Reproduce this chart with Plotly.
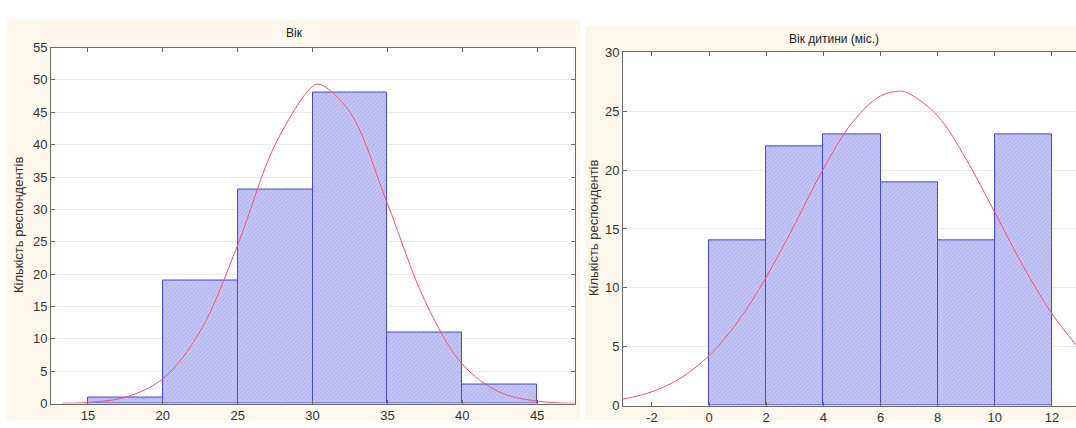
import plotly.graph_objects as go

W, H = 1076, 428

# ---- data: left histogram (Вік) ----
age_edges = [15, 20, 25, 30, 35, 40, 45]
age_counts = [1, 19, 33, 48, 11, 3]
age_curve_x = [13.3, 15, 17.5, 20, 22.5, 25, 27.5, 30, 30.5, 32.5, 35, 37.5, 40, 42.5, 45, 47.5]
age_curve_y = [0.05, 0.19, 0.99, 3.85, 11.2, 24.5, 40.0, 49.0, 49.3, 45.0, 30.9, 15.9, 6.1, 1.77, 0.38, 0.06]
age_ticks = [15, 20, 25, 30, 35, 40, 45]

# ---- data: right histogram (Вік дитини) ----
child_edges = [0, 2, 4, 6, 8, 10, 12]
child_counts = [14, 22, 23, 19, 14, 23]
child_curve_x = [-3, -2, -1, 0, 1, 2, 3, 4, 5, 6, 6.7, 7, 8, 9, 10, 11, 12, 12.84]
child_curve_y = [0.55, 1.17, 2.32, 4.24, 7.1, 10.9, 15.4, 20.1, 24.0, 26.3, 26.7, 26.5, 24.6, 20.9, 16.4, 11.8, 7.8, 5.15]
child_ticks = [-2, 0, 2, 4, 6, 8, 10, 12]
child_tick_labels = ["-2", "0", "2", "4", "6", "8", "10", "12"]

left_title = "Вік"
right_title = "Вік дитини (міс.)"
y_title = "Кількість респондентів"

def px_x(p):
    return p / W

def px_y(p):
    return 1 - p / H

BAR_FILL = "#c6c6f5"
BAR_LINE = "#4646e6"
CURVE = "#f0566e"
CREAM = "#fcf8ec"
FONT = "Liberation Sans, Arial, sans-serif"

fig = go.Figure()

def add_hist(edges, counts, cx, cy, xa, ya):
    centers = [(edges[i] + edges[i + 1]) / 2 for i in range(len(counts))]
    widths = [edges[i + 1] - edges[i] for i in range(len(counts))]
    fig.add_trace(go.Bar(
        x=centers, y=counts, width=widths, xaxis=xa, yaxis=ya,
        marker=dict(color=BAR_FILL, line=dict(color=BAR_LINE, width=1),
                    pattern=dict(shape="/", fgcolor="#9a9aea", bgcolor=BAR_FILL,
                                 size=3, solidity=0.35)),
        showlegend=False, hoverinfo="skip"))
    fig.add_trace(go.Scatter(
        x=cx, y=cy, mode="lines", xaxis=xa, yaxis=ya,
        line=dict(color=CURVE, width=1, shape="spline"),
        showlegend=False, hoverinfo="skip"))

add_hist(age_edges, age_counts, age_curve_x, age_curve_y, "x", "y")
add_hist(child_edges, child_counts, child_curve_x, child_curve_y, "x2", "y2")

axis_common = dict(
    showline=True, linecolor="#6a6a6a", linewidth=1,
    ticks="inside", ticklen=4, tickcolor="#6a6a6a",
    tickfont=dict(family=FONT, size=13, color="#333333"),
    zeroline=False, fixedrange=True,
)

L_X0, L_X1, L_Y0, L_Y1 = 51, 575, 411, 42
R_X0, R_Y0, R_Y1 = 623, 413, 47

fig.update_layout(
    width=W, height=H,
    margin=dict(l=0, r=0, t=0, b=0),
    paper_bgcolor="white", plot_bgcolor="white",
    bargap=0,
    font=dict(family=FONT),
    xaxis=dict(domain=[px_x(L_X0), px_x(L_X1)], range=[12.53, 47.53],
               tickmode="array", tickvals=age_ticks,
               showgrid=False, mirror="ticks", anchor="y", **axis_common),
    yaxis=dict(domain=[px_y(L_Y0), px_y(L_Y1)], range=[0, 55], dtick=5,
               showgrid=True, gridcolor="#ececec", gridwidth=1,
               mirror="ticks", anchor="x", **axis_common),
    xaxis2=dict(domain=[px_x(R_X0), 1.0], range=[-3.01, 12.84],
                tickmode="array", tickvals=child_ticks, ticktext=child_tick_labels,
                showgrid=False, mirror="ticks", anchor="y2", **axis_common),
    yaxis2=dict(domain=[px_y(R_Y0), px_y(R_Y1)], range=[0, 30], dtick=5,
                showgrid=True, gridcolor="#ececec", gridwidth=1,
                mirror=False, anchor="x2", **axis_common),
    shapes=[
        dict(type="rect", xref="paper", yref="paper", layer="below",
             x0=px_x(7), x1=px_x(580), y0=0, y1=px_y(13),
             fillcolor=CREAM, line=dict(width=0)),
        dict(type="rect", xref="paper", yref="paper", layer="below",
             x0=px_x(585), x1=1, y0=0, y1=px_y(20),
             fillcolor=CREAM, line=dict(width=0)),
        dict(type="rect", xref="paper", yref="paper", layer="below",
             x0=px_x(L_X0), x1=px_x(L_X1), y0=px_y(L_Y0), y1=px_y(L_Y1),
             fillcolor="white", line=dict(width=0)),
        dict(type="rect", xref="paper", yref="paper", layer="below",
             x0=px_x(R_X0), x1=1, y0=px_y(R_Y0), y1=px_y(R_Y1),
             fillcolor="white", line=dict(width=0)),
    ],
    annotations=[
        dict(text=left_title, xref="paper", yref="paper", x=px_x(294), y=px_y(27),
             showarrow=False, font=dict(family=FONT, size=12, color="#222222"),
             xanchor="center", yanchor="middle"),
        dict(text=right_title, xref="paper", yref="paper", x=px_x(834), y=px_y(33),
             showarrow=False, font=dict(family=FONT, size=12, color="#222222"),
             xanchor="center", yanchor="middle"),
        dict(text=y_title, xref="paper", yref="paper", x=px_x(18), y=px_y(226),
             showarrow=False, textangle=-90, font=dict(family=FONT, size=13, color="#333333"),
             xanchor="center", yanchor="middle"),
        dict(text=y_title, xref="paper", yref="paper", x=px_x(594), y=px_y(229),
             showarrow=False, textangle=-90, font=dict(family=FONT, size=13, color="#333333"),
             xanchor="center", yanchor="middle"),
    ],
)

fig.write_html("out.html")
